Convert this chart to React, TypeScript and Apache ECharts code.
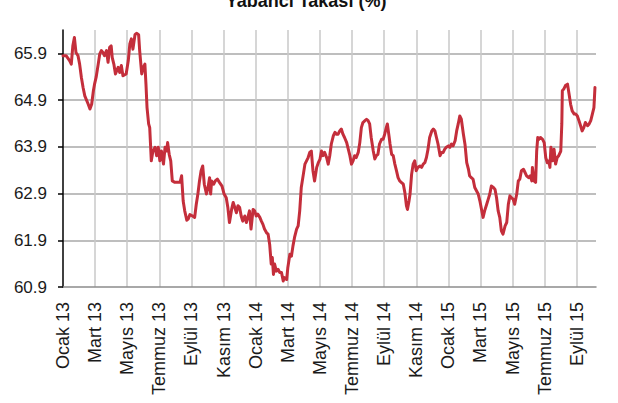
import React, { useEffect, useRef } from "react";
import * as echarts from "echarts";

const chartTitle = "Yabancı Takası (%)";
const xTickLabels = [
  "Ocak 13", "Mart 13", "Mayıs 13", "Temmuz 13", "Eylül 13", "Kasım 13",
  "Ocak 14", "Mart 14", "Mayıs 14", "Temmuz 14", "Eylül 14", "Kasım 14",
  "Ocak 15", "Mart 15", "Mayıs 15", "Temmuz 15", "Eylül 15",
];
const yTicks = [60.9, 61.9, 62.9, 63.9, 64.9, 65.9];
const xStartDate = "2013-01-01";
const xEndDate = "2015-10-07";

const dates = [
  "2013-01-01","2013-01-07","2013-01-14","2013-01-17","2013-01-20","2013-01-23","2013-01-26","2013-01-30",
  "2013-02-02","2013-02-05","2013-02-08","2013-02-11","2013-02-17","2013-02-20","2013-02-23","2013-02-26","2013-02-28",
  "2013-03-03","2013-03-07","2013-03-10","2013-03-13","2013-03-16","2013-03-19","2013-03-23","2013-03-26","2013-03-29",
  "2013-04-01","2013-04-03","2013-04-06","2013-04-09","2013-04-14","2013-04-17","2013-04-20","2013-04-23","2013-04-29",
  "2013-05-03","2013-05-06","2013-05-09","2013-05-12","2013-05-16","2013-05-19","2013-05-23","2013-05-25","2013-05-29",
  "2013-06-01","2013-06-04","2013-06-06","2013-06-08","2013-06-11","2013-06-13","2013-06-16","2013-06-19","2013-06-23","2013-06-26","2013-06-29",
  "2013-07-02","2013-07-05","2013-07-09","2013-07-12","2013-07-15","2013-07-17","2013-07-20","2013-07-23","2013-07-26","2013-07-31",
  "2013-08-07","2013-08-10","2013-08-13","2013-08-16","2013-08-19","2013-08-23","2013-08-26","2013-08-29",
  "2013-09-03","2013-09-07","2013-09-10","2013-09-13","2013-09-16","2013-09-19","2013-09-22","2013-09-25","2013-09-29",
  "2013-10-02","2013-10-05","2013-10-07","2013-10-09","2013-10-13","2013-10-16","2013-10-20","2013-10-24","2013-10-29",
  "2013-11-02","2013-11-06","2013-11-09","2013-11-12","2013-11-16","2013-11-19","2013-11-22","2013-11-25","2013-11-28",
  "2013-12-01","2013-12-04","2013-12-07","2013-12-11","2013-12-14","2013-12-17","2013-12-20","2013-12-23","2013-12-27","2013-12-30",
  "2014-01-02","2014-01-05","2014-01-09","2014-01-12","2014-01-15","2014-01-18","2014-01-22","2014-01-25","2014-01-28","2014-01-31",
  "2014-02-02","2014-02-04","2014-02-06","2014-02-09","2014-02-12","2014-02-15","2014-02-18","2014-02-21","2014-02-23","2014-02-27",
  "2014-03-01","2014-03-05","2014-03-08","2014-03-11","2014-03-14","2014-03-18","2014-03-21","2014-03-24","2014-03-27","2014-03-31",
  "2014-04-03","2014-04-06","2014-04-09","2014-04-12","2014-04-15","2014-04-18","2014-04-21","2014-04-25","2014-04-28",
  "2014-05-01","2014-05-04","2014-05-07","2014-05-10","2014-05-14","2014-05-17","2014-05-20","2014-05-23","2014-05-27","2014-05-30",
  "2014-06-02","2014-06-05","2014-06-08","2014-06-11","2014-06-14","2014-06-17","2014-06-21","2014-06-24","2014-06-27","2014-06-30",
  "2014-07-03","2014-07-06","2014-07-09","2014-07-13","2014-07-16","2014-07-19","2014-07-22","2014-07-26","2014-07-29",
  "2014-08-01","2014-08-04","2014-08-07","2014-08-11","2014-08-14","2014-08-17","2014-08-20","2014-08-23","2014-08-27","2014-08-30",
  "2014-09-02","2014-09-05","2014-09-07","2014-09-10","2014-09-12","2014-09-15","2014-09-18","2014-09-21","2014-09-24","2014-09-27","2014-09-30",
  "2014-10-03","2014-10-07","2014-10-10","2014-10-13","2014-10-15","2014-10-18","2014-10-20","2014-10-23","2014-10-26","2014-10-29",
  "2014-11-01","2014-11-04","2014-11-08","2014-11-11","2014-11-14","2014-11-17","2014-11-20","2014-11-23","2014-11-26","2014-11-30",
  "2014-12-03","2014-12-06","2014-12-09","2014-12-12","2014-12-16","2014-12-19","2014-12-22","2014-12-25","2014-12-28",
  "2015-01-01","2015-01-04","2015-01-07","2015-01-10","2015-01-14","2015-01-17","2015-01-20","2015-01-23","2015-01-26","2015-01-30",
  "2015-02-02","2015-02-05","2015-02-08","2015-02-10","2015-02-13","2015-02-16","2015-02-19","2015-02-22","2015-02-25","2015-02-28",
  "2015-03-03","2015-03-06","2015-03-09","2015-03-13","2015-03-16","2015-03-19","2015-03-22","2015-03-26","2015-03-29",
  "2015-04-01","2015-04-04","2015-04-07","2015-04-10","2015-04-13","2015-04-17","2015-04-20","2015-04-23","2015-04-26","2015-04-29",
  "2015-05-02","2015-05-05","2015-05-09","2015-05-12","2015-05-15","2015-05-18","2015-05-22","2015-05-25","2015-05-28",
  "2015-06-01","2015-06-04","2015-06-07","2015-06-08","2015-06-11","2015-06-14","2015-06-16","2015-06-18","2015-06-20","2015-06-23","2015-06-27","2015-06-30",
  "2015-07-03","2015-07-06","2015-07-09","2015-07-11","2015-07-13","2015-07-16","2015-07-19","2015-07-22","2015-07-25","2015-07-28",
  "2015-08-01","2015-08-03","2015-08-04","2015-08-07","2015-08-10","2015-08-14","2015-08-17","2015-08-20","2015-08-23","2015-08-27","2015-08-30",
  "2015-09-02","2015-09-05","2015-09-08","2015-09-11","2015-09-14","2015-09-17","2015-09-21","2015-09-24","2015-09-27","2015-09-30",
  "2015-10-03","2015-10-05",
];

const values = [
  65.85,65.85,65.74,65.67,66.06,66.24,65.92,65.85,
  65.67,65.39,65.17,64.99,64.81,64.71,64.81,65.10,65.24,
  65.39,65.67,65.89,65.96,65.92,65.85,65.96,65.71,66.03,
  66.06,65.81,65.67,65.46,65.60,65.49,65.64,65.42,65.46,
  65.74,66.10,66.21,65.99,66.30,66.33,66.30,65.96,65.46,
  65.60,65.67,65.24,64.74,64.39,64.31,63.60,63.81,63.89,63.71,63.89,
  63.60,63.81,63.53,63.89,63.81,63.99,63.74,63.60,63.17,63.14,
  63.14,63.14,63.28,62.74,62.53,62.33,62.36,62.45,
  62.42,62.39,62.67,62.89,63.17,63.39,63.49,63.10,62.89,
  63.03,63.24,62.89,63.17,63.10,63.17,63.21,63.14,63.06,
  62.89,62.81,62.60,62.28,62.56,62.71,62.60,62.49,62.64,
  62.60,62.42,62.31,62.42,62.28,62.39,62.53,62.14,62.56,62.53,
  62.42,62.46,62.39,62.31,62.24,62.14,62.06,62.03,61.81,61.39,
  61.53,61.17,61.39,61.24,61.28,61.21,61.21,61.03,61.10,61.06,
  61.31,61.60,61.56,61.78,61.96,62.14,62.21,62.53,63.03,63.31,
  63.53,63.60,63.67,63.78,63.81,63.39,63.17,63.46,63.56,
  63.63,63.81,63.71,63.78,63.67,63.53,63.71,63.96,64.14,64.21,
  64.17,64.17,64.24,64.28,64.17,64.10,63.99,63.85,63.71,63.53,
  63.60,63.71,63.67,63.78,63.99,64.31,64.42,64.46,64.49,
  64.46,64.39,64.10,63.81,63.64,63.71,63.74,63.96,64.06,64.06,
  64.17,64.31,64.39,64.14,63.96,63.74,63.71,63.53,63.39,63.24,63.17,
  63.14,63.10,62.92,62.64,62.56,62.74,62.89,63.31,63.53,63.60,
  63.39,63.46,63.49,63.46,63.53,63.56,63.67,63.85,64.10,64.24,
  64.28,64.24,64.10,63.96,63.71,63.78,63.78,63.85,63.89,
  63.92,63.89,63.96,63.92,64.03,64.24,64.39,64.56,64.49,64.17,
  63.95,63.56,63.42,63.28,63.24,63.21,63.03,62.96,62.89,62.74,
  62.56,62.39,62.53,62.67,62.78,62.89,63.06,63.03,62.99,
  62.81,62.53,62.39,62.10,62.03,62.21,62.28,62.67,62.85,62.81,
  62.78,62.67,62.89,63.17,63.21,63.39,63.42,63.35,63.28,
  63.24,63.28,63.17,63.46,63.17,63.14,63.81,64.10,64.06,64.10,64.06,63.99,
  63.67,63.56,63.60,63.46,63.89,63.60,63.85,63.53,63.67,63.71,
  63.81,64.39,65.10,65.14,65.21,65.24,65.03,64.81,64.67,64.60,64.60,
  64.56,64.46,64.35,64.24,64.31,64.42,64.35,64.39,64.46,64.60,
  64.74,65.17,
];

const FONT = "'Liberation Sans', Arial, sans-serif";

function monthPos(d: string): number {
  const [y0] = xStartDate.split("-").map(Number);
  const [y, m, day] = d.split("-").map(Number);
  const dim = new Date(y, m, 0).getDate();
  return (y - y0) * 12 + (m - 1) + (day - 1) / dim;
}

export default function App() {
  const ref = useRef<HTMLDivElement>(null);

  useEffect(() => {
    if (!ref.current) return;
    const chart = echarts.init(ref.current, undefined, { renderer: "svg" });
    const seriesData = dates.map((d, i) => [monthPos(d), values[i]]);
    chart.setOption({
      animation: false,
      backgroundColor: "#ffffff",
      graphic: [
        {
          type: "text",
          x: 306,
          y: 1,
          silent: true,
          style: {
            text: chartTitle,
            fill: "#111111",
            font: `bold 18px ${FONT}`,
            align: "center",
            verticalAlign: "middle",
          },
        },
      ],
      grid: { left: 63, right: 22, top: 30, bottom: 116, containLabel: false },
      xAxis: {
        type: "value",
        min: monthPos(xStartDate),
        max: monthPos(xEndDate),
        interval: 2,
        axisLine: { show: true, onZero: false, lineStyle: { color: "#8c8c8c", width: 1.5 } },
        axisTick: { show: false },
        axisLabel: {
          rotate: 90,
          margin: 15,
          fontSize: 18,
          fontFamily: FONT,
          color: "#1a1a1a",
          showMaxLabel: false,
          formatter: (v: number) => {
            const idx = Math.round(v / 2);
            if (Math.abs(v - idx * 2) > 1e-6) return "";
            return xTickLabels[idx] ?? "";
          },
        },
        splitLine: {
          show: true,
          showMinLine: false,
          showMaxLine: false,
          lineStyle: { color: "#c8c8c8", width: 1.5 },
        },
      },
      yAxis: {
        type: "value",
        min: 60.9,
        max: 66.4,
        interval: 1,
        axisLine: { show: true, onZero: false, lineStyle: { color: "#000000", width: 1.5 } },
        axisTick: {
          show: true,
          length: 5,
          customValues: yTicks,
          lineStyle: { color: "#000000", width: 1.5 },
        },
        axisLabel: {
          margin: 16,
          fontSize: 17,
          fontFamily: FONT,
          color: "#1a1a1a",
          customValues: yTicks,
          formatter: (v: number) => {
            const k = Math.round(v - yTicks[0]);
            if (Math.abs(v - yTicks[0] - k) > 1e-6) return "";
            return v.toFixed(1);
          },
        },
        splitLine: {
          show: true,
          showMinLine: false,
          lineStyle: { color: "#a8a8a8", width: 1.5 },
        },
      },
      series: [
        {
          type: "line",
          data: seriesData,
          showSymbol: false,
          symbol: "none",
          smooth: false,
          lineStyle: { color: "#c42e3b", width: 3, cap: "round", join: "round" },
          z: 5,
        },
      ],
    });
    return () => chart.dispose();
  }, []);

  return (
    <div
      ref={ref}
      style={{ position: "fixed", left: 0, top: 0, width: 618, height: 403 }}
    />
  );
}
